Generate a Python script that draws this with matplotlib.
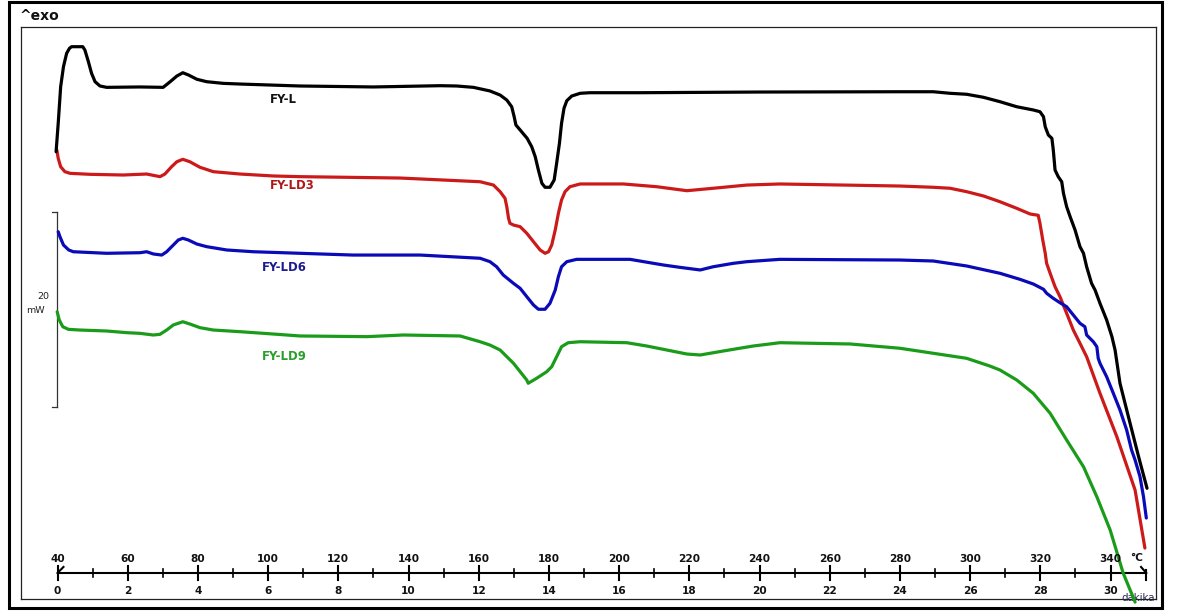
import matplotlib
matplotlib.use("Agg")
import matplotlib.pyplot as plt
from matplotlib.patches import Rectangle

# ---------------- data (temperature in °C, heat flow in mW, offset traces) ----------------
fyl_T = [39.6, 40.2, 40.9, 41.7, 42.6, 43.4, 44.0, 47.2, 47.8, 48.8, 49.7, 50.7, 52.1, 54.0,
         63.5, 70.1, 72.1, 74.0, 75.7, 77.3, 79.7, 82.5, 87.2, 92.0, 109.0, 130.0,
         149.0, 153.7, 158.5, 163.2, 166.1, 168.0, 169.4, 170.1, 170.6, 171.8, 173.8, 175.1,
         176.1, 177.0, 178.0, 178.9, 180.3, 181.5, 182.2, 183.0, 183.6, 184.3, 185.1, 186.5,
         188.9, 191.7, 206.0, 240.0,
         280.0, 289.5, 294.3, 299.0, 303.8, 308.5, 313.3, 318.0, 319.9, 320.9, 321.4, 322.3,
         323.3, 323.7, 324.2, 325.1, 326.1, 326.6, 327.5, 328.5, 329.9, 331.3, 332.3, 333.2,
         334.6, 335.6, 337.0, 338.9, 340.4, 341.3, 342.7, 345.1, 348.0, 350.4]
fyl_H = [45.98, 48.89, 52.65, 54.70, 56.07, 56.58, 56.75, 56.75, 56.41, 55.21, 54.02, 53.16,
         52.72, 52.58, 52.62, 52.58, 53.16, 53.74, 54.08, 53.85, 53.41, 53.16, 52.99, 52.92,
         52.72, 52.62,
         52.75, 52.72, 52.58, 52.21, 51.79, 51.28, 50.59, 49.57, 48.72, 48.21, 47.35, 46.49,
         45.47, 44.10, 42.74, 42.33, 42.33, 43.08, 44.79, 46.84, 48.89, 50.43, 51.21, 51.69,
         51.97, 52.03, 52.03, 52.10,
         52.13, 52.13, 51.97, 51.87, 51.56, 51.11, 50.59, 50.26, 50.08, 49.57, 48.54, 47.69,
         47.35, 46.15, 44.10, 43.42, 42.90, 41.71, 40.34, 39.31, 37.95, 36.24, 35.56, 34.18,
         32.48, 31.79, 30.43, 28.72, 27.01, 25.64, 22.23, 18.80, 14.70, 11.46]

ld3_T = [39.8, 40.2, 40.9, 42.1, 43.6, 49.3, 58.7, 65.4, 69.2, 70.6, 72.5, 74.0, 75.7, 77.7,
         80.6, 84.4, 92.0, 101.5, 109.1, 137.6,
         160.4, 164.2, 166.1, 167.5, 168.0, 168.5, 168.9, 169.9, 171.8, 173.7, 175.6, 177.5,
         178.9, 179.9, 180.8, 181.8, 182.7, 183.6, 184.6, 186.0, 188.9, 201.2, 210.7, 219.3,
         226.8, 236.4, 245.8,
         280.0, 289.5, 294.3, 299.0, 303.8, 308.5, 313.3, 317.1, 319.4, 319.9, 320.7, 321.4,
         321.8, 322.8, 324.2, 325.6, 327.5, 329.4, 331.3, 333.2, 337.0, 341.8, 347.0, 349.8]
ld3_H = [46.15, 45.30, 44.44, 43.93, 43.76, 43.66, 43.59, 43.69, 43.42, 43.69, 44.44, 44.95,
         45.20, 44.95, 44.38, 43.93, 43.69, 43.49, 43.42, 43.28,
         42.90, 42.56, 41.88, 41.20, 40.34, 39.15, 38.64, 38.46, 38.29, 37.61, 36.75, 35.90,
         35.56, 35.72, 36.41, 37.95, 39.66, 41.03, 41.88, 42.39, 42.67, 42.67, 42.39, 41.98,
         42.23, 42.56, 42.67,
         42.46, 42.33, 42.23, 41.88, 41.44, 40.85, 40.17, 39.59, 39.46, 38.64, 36.92, 35.56,
         34.53, 33.51, 32.13, 31.11, 29.41, 27.69, 26.33, 24.95, 21.20, 16.75, 11.28, 5.33]

ld6_T = [40.2, 40.7, 41.7, 43.2, 44.5, 54.0, 63.5, 65.4, 67.3, 69.7, 71.1, 73.0, 74.4, 75.7,
         77.3, 79.7, 82.5, 88.2, 95.8, 109.1, 124.2, 143.3,
         160.4, 163.2, 165.1, 167.0, 169.9, 171.8, 173.7, 175.6, 177.0, 178.9, 180.3, 181.8,
         182.7, 183.6, 185.1, 187.9, 203.1, 212.6, 217.3, 223.1, 226.8, 232.5, 236.4, 245.8,
         280.0, 289.5, 299.0, 308.5, 314.2, 318.0, 320.9, 321.8, 323.7, 325.6, 327.5, 329.4,
         331.3, 332.7, 333.2, 335.1, 336.1, 336.5, 337.0, 338.9, 340.8, 342.7, 344.6, 346.0,
         347.0, 348.4, 349.4, 350.2]
ld6_H = [37.77, 37.26, 36.41, 35.90, 35.72, 35.56, 35.62, 35.72, 35.49, 35.38, 35.72, 36.41,
         36.92, 37.10, 36.92, 36.51, 36.24, 35.90, 35.72, 35.56, 35.38, 35.38,
         35.05, 34.70, 34.18, 33.33, 32.48, 31.97, 31.11, 30.26, 29.82, 29.82, 30.43, 31.79,
         33.16, 34.18, 34.70, 34.94, 34.94, 34.36, 34.12, 33.85, 34.18, 34.53, 34.70, 34.94,
         34.87, 34.77, 34.26, 33.51, 32.89, 32.41, 31.87, 31.46, 30.94, 30.49, 30.08, 29.23,
         28.38, 28.03, 27.18, 26.49, 25.98, 24.79, 24.28, 22.90, 21.20, 19.49, 17.44, 15.38,
         14.36, 12.65, 10.59, 8.41]

ld9_T = [39.9, 40.5, 41.5, 43.1, 46.4, 54.0, 59.7, 63.5, 67.3, 69.2, 71.1, 73.0, 75.7, 77.7,
         80.6, 84.4, 92.0, 101.5, 109.1, 128.1, 138.5, 154.7,
         160.4, 163.2, 166.1, 169.9, 171.8, 173.7, 174.1, 176.5, 179.4, 180.8, 182.2, 183.6,
         185.5, 188.9, 202.2, 207.9, 213.6, 219.3, 223.1, 226.8, 232.5, 238.2, 245.8,
         265.8, 280.0, 299.0, 305.6, 308.5, 313.3, 318.0, 322.8, 327.5, 332.3, 336.1, 339.9,
         343.6, 347.0]
ld9_H = [29.57, 28.72, 28.03, 27.76, 27.69, 27.59, 27.42, 27.35, 27.18, 27.25, 27.69, 28.21,
         28.54, 28.31, 27.93, 27.69, 27.52, 27.28, 27.08, 27.01, 27.18, 27.08,
         26.49, 26.15, 25.64, 24.28, 23.42, 22.56, 22.23, 22.74, 23.42, 23.93, 24.95, 25.98,
         26.39, 26.49, 26.39, 26.05, 25.64, 25.23, 25.13, 25.36, 25.71, 26.05, 26.39,
         26.26, 25.82, 24.79, 24.00, 23.59, 22.56, 21.20, 19.15, 16.41, 13.67, 10.59, 7.18,
         2.77, -0.21]

series_names = ["FY-L", "FY-LD3", "FY-LD6", "FY-LD9"]
line_colors = ["#000000", "#cc1a1a", "#0a0ab8", "#1a9c1a"]
label_colors = ["#111111", "#b01818", "#1c1c90", "#2a9e2a"]

temp_ticks = list(range(40, 341, 20))           # °C
time_ticks = list(range(0, 31, 2))              # dakika (10 °C/min)
minor_temp = list(range(50, 341, 20))
scale_mW = 20

# ---------------- figure ----------------
W, H = 1179, 612
fig = plt.figure(figsize=(W / 100, H / 100), dpi=100)
fig.patch.set_facecolor("white")

ax = fig.add_axes([21 / W, (H - 599) / H, (1156 - 21) / W, (599 - 27) / H])
ax.set_xlim(29.60, 352.96)
ax.set_ylim(0.103, 58.77)
ax.set_xticks([])
ax.set_yticks([])
for sp in ax.spines.values():
    sp.set_linewidth(0.9)
    sp.set_color("#222222")

series = [(fyl_T, fyl_H), (ld3_T, ld3_H), (ld6_T, ld6_H), (ld9_T, ld9_H)]
for i, (t, h) in enumerate(series):
    ax.plot(t, h, color=line_colors[i], lw=2.3, solid_joinstyle="round",
            solid_capstyle="round", zorder=4 if i == 0 else 3,
            clip_on=(i != 3))

# curve labels
label_pos = [(100.5, 51.38), (100.5, 42.56), (98.2, 34.12), (98.2, 24.95)]
for name, (x, y), c in zip(series_names, label_pos, label_colors):
    ax.text(x, y, name, color=c, fontsize=8.4, fontweight="bold",
            ha="left", va="center", family="DejaVu Sans")

# scale bar (20 mW)
sb_x = 39.86
sb_y0, sb_y1 = 19.79, 19.79 + scale_mW
ax.plot([sb_x, sb_x], [sb_y0, sb_y1], color="#333333", lw=0.9, clip_on=False)
ax.plot([sb_x - 1.4, sb_x], [sb_y0, sb_y0], color="#333333", lw=0.9, clip_on=False)
ax.plot([sb_x - 1.4, sb_x], [sb_y1, sb_y1], color="#333333", lw=0.9, clip_on=False)
ax.text(37.6, 31.1, str(scale_mW), fontsize=6.8, color="#222222",
        ha="right", va="center")
ax.text(36.5, 29.7, "mW", fontsize=6.8, color="#222222", ha="right", va="center")

# time / temperature axis
axis_y = 2.77
maj = 0.72
mnr = 0.46
ax.plot([40, 350.2], [axis_y, axis_y], color="#000000", lw=1.5, zorder=2)
for T in temp_ticks:
    ax.plot([T, T], [axis_y - maj, axis_y + maj], color="#000000", lw=1.5, zorder=2)
    ax.text(T, 4.25, str(T), fontsize=7.6, fontweight="bold", ha="center",
            va="center", color="#111111")
for T in minor_temp:
    ax.plot([T, T], [axis_y - mnr, axis_y + mnr], color="#000000", lw=1.2, zorder=2)
for tm in time_ticks:
    T = 40 + 10 * tm
    ax.text(T, 0.95, str(tm), fontsize=7.6, fontweight="bold", ha="center",
            va="center", color="#111111")
# start / end arrow marks
ax.plot([40, 41.7], [axis_y, axis_y + 0.62], color="#000000", lw=1.5, zorder=2)
ax.plot([350.2, 350.2], [axis_y - maj, axis_y + maj * 0.4], color="#000000", lw=1.5, zorder=2)
ax.plot([348.7, 350.2], [axis_y + 0.62, axis_y], color="#000000", lw=1.5, zorder=2)
ax.text(347.5, 4.3, "°C", fontsize=7.6, fontweight="bold", ha="center",
        va="center", color="#111111")
ax.text(347.9, 0.2, "dakika", fontsize=7.4, ha="center", va="center",
        color="#2a2a5a", zorder=1)

# ^exo
fig.text(20 / W, 1 - 19.5 / H, "^exo", fontsize=10, fontweight="bold",
         ha="left", va="baseline", color="#111111")

# outer border
fig.add_artist(Rectangle((9 / W, (H - 607.5) / H), (1161.5 - 9) / W, (607.5 - 1.5) / H,
                         transform=fig.transFigure, fill=False, lw=2.2,
                         edgecolor="#000000"))

fig.savefig("out.png", dpi=100, facecolor="white")
